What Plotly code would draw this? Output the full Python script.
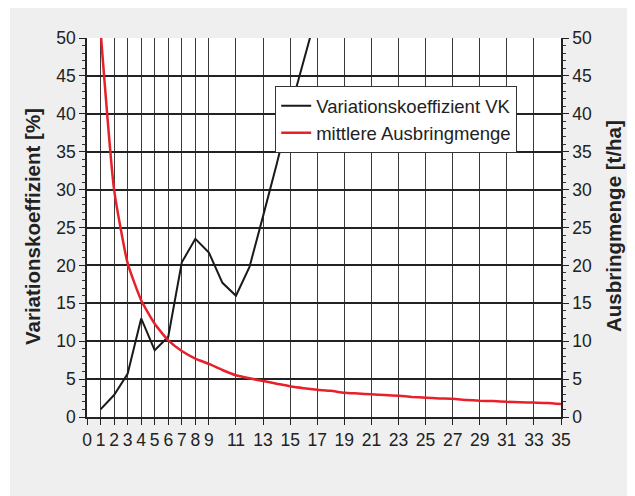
import plotly.graph_objects as go

# ---- data ----
vk_x = list(range(1, 18))
vk_values = [1.0, 2.9, 5.7, 13.0, 8.8, 10.6, 20.4, 23.5, 21.7, 17.7, 16.0, 19.8,
             26.5, 33.3, 40.5, 47.3, 53.5]

menge_x = list(range(1, 36))
menge_values = [51, 30.0, 20.3, 15.4, 12.3, 10.1, 8.7, 7.7, 7.0, 6.2, 5.5, 5.1,
                4.75, 4.4, 4.05, 3.8, 3.6, 3.45, 3.2, 3.1, 3.0, 2.9, 2.8, 2.65,
                2.55, 2.45, 2.4, 2.25, 2.15, 2.1, 2.0, 1.95, 1.9, 1.85, 1.7]

x_tickvals = [0, 1, 2, 3, 4, 5, 6, 7, 8, 9, 11, 13, 15, 17, 19, 21, 23, 25, 27,
              29, 31, 33, 35]
y_tickvals = [0, 5, 10, 15, 20, 25, 30, 35, 40, 45, 50]

name_vk = "Variationskoeffizient VK"
name_menge = "mittlere Ausbringmenge"
title_left = "Variationskoeffizient [%]"
title_right = "Ausbringmenge [t/ha]"

FONT = "Liberation Sans, Arial, Helvetica, sans-serif"

# page body has an 8px margin; figure coordinates = page coordinates - 8
OFF = 8
W, H = 635 - OFF, 496 - OFF
L, T = 87 - OFF, 38 - OFF
PW, PH = 474, 379
R = W - L - PW
B = H - T - PH


def px_x(px):  # page pixel -> paper x
    return (px - OFF - L) / PW


def px_y(py):  # page pixel -> paper y
    return (T + PH - (py - OFF)) / PH


fig = go.Figure()
fig.add_trace(go.Scatter(x=vk_x, y=vk_values, mode="lines", name=name_vk,
                         line=dict(color="#1a1a1a", width=2), yaxis="y"))
fig.add_trace(go.Scatter(x=menge_x, y=menge_values, mode="lines", name=name_menge,
                         line=dict(color="#e8202a", width=2.5, shape="spline", smoothing=0.5),
                         yaxis="y2"))

axis_common = dict(
    ticks="outside", ticklen=6, tickwidth=1.2, tickcolor="#222",
    showline=True, linecolor="#222", linewidth=1.5,
    tickfont=dict(family=FONT, size=17.5, color="#222"),
    zeroline=False,
)

fig.update_layout(
    width=W, height=H,
    margin=dict(l=L, r=R, t=T, b=B, autoexpand=False),
    paper_bgcolor="white",
    plot_bgcolor="rgba(0,0,0,0)",
    font=dict(family=FONT, color="#222"),
    showlegend=True,
    legend=dict(
        x=px_x(275), y=px_y(86), xanchor="left", yanchor="top",
        bgcolor="white", bordercolor="#333", borderwidth=1.2,
        font=dict(family=FONT, size=18.5, color="#222"),
        itemwidth=30, tracegroupgap=0,
    ),
    xaxis=dict(
        range=[0, 35], tickmode="array", tickvals=x_tickvals,
        ticktext=[str(v) for v in x_tickvals],
        showgrid=True, gridcolor="#3a3a3a", gridwidth=1.3,
        mirror=False, **axis_common,
    ),
    yaxis=dict(
        range=[0, 50], tickmode="array", tickvals=y_tickvals,
        showgrid=True, gridcolor="#222", gridwidth=1.6,
        minor=dict(dtick=1, ticks="outside", ticklen=3, tickcolor="#333", tickwidth=1, showgrid=False),
        **axis_common,
    ),
    yaxis2=dict(
        range=[0, 50], tickmode="array", tickvals=y_tickvals,
        overlaying="y", side="right", anchor="x", showgrid=False,
        minor=dict(dtick=1, ticks="outside", ticklen=3, tickcolor="#333", tickwidth=1, showgrid=False),
        **axis_common,
    ),
    shapes=[
        dict(type="rect", xref="paper", yref="paper",
             x0=px_x(10), x1=px_x(660), y0=px_y(520), y1=px_y(8),
             fillcolor="#efefef", line=dict(width=0), layer="below"),
        dict(type="rect", xref="paper", yref="paper", x0=0, x1=1, y0=0, y1=1,
             fillcolor="white", line=dict(width=0), layer="below"),
    ],
    annotations=[
        dict(text="<b>" + title_left + "</b>", xref="paper", yref="paper",
             x=px_x(32), y=px_y(227), textangle=-90, showarrow=False,
             xanchor="center", yanchor="middle",
             font=dict(family=FONT, size=20.5, color="#222")),
        dict(text="<b>" + title_right + "</b>", xref="paper", yref="paper",
             x=px_x(613), y=px_y(226), textangle=-90, showarrow=False,
             xanchor="center", yanchor="middle",
             font=dict(family=FONT, size=20.5, color="#222")),
    ],
)

fig.write_html("out.html")
